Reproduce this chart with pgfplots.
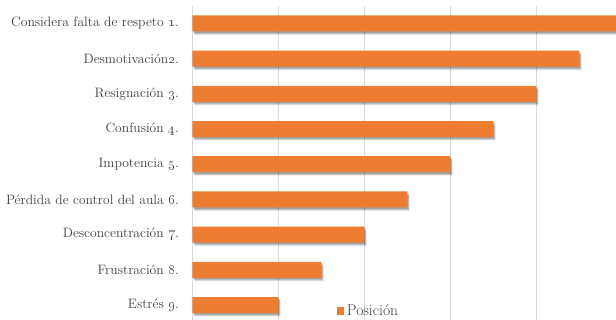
\documentclass[border=0pt]{standalone}
\usepackage{pgfplots}
\pgfplotsset{compat=1.18}
\usetikzlibrary{shadows}
\definecolor{barorange}{HTML}{ED7D31}
\definecolor{gridgray}{HTML}{D9D9D9}
\definecolor{labelgray}{HTML}{404040}

% soft shadow built from a few stacked drop shadows
\tikzset{softshadow/.style={
  drop shadow={shadow xshift=2.4pt, shadow yshift=-3.4pt, opacity=0.10, fill=black},
  drop shadow={shadow xshift=1.8pt, shadow yshift=-2.6pt, opacity=0.14, fill=black},
  drop shadow={shadow xshift=1.1pt, shadow yshift=-1.6pt, opacity=0.18, fill=black}}}

\begin{document}
\begin{tikzpicture}[x=1pt,y=1pt]
\useasboundingbox (0,0) rectangle (616,320);
\clip (0,0) rectangle (616,320);
\begin{axis}[
  at={(192.3pt,-2.6pt)}, anchor=south west,
  scale only axis, width=430pt, height=316.7pt,
  xbar, bar width=16pt,
  xmin=0, xmax=10, ymin=-0.5, ymax=8.5,
  xtick={0,2,4,6,8,10}, xticklabels={},
  xmajorgrids, major grid style={gridgray, line width=1pt},
  ytick={0,...,8},
  yticklabels={
    Estrés \oldstylenums{9}.,
    Frustración \oldstylenums{8}.,
    Desconcentración \oldstylenums{7}.,
    Pérdida de control del aula \oldstylenums{6}.,
    Impotencia \oldstylenums{5}.,
    Confusión \oldstylenums{4}.,
    Resignación \oldstylenums{3}.,
    Desmotivación\oldstylenums{2}.,
    Considera falta de respeto \oldstylenums{1}.},
  axis line style={draw=none},
  major tick length=0pt,
  yticklabel style={font=\fontsize{13.6}{15}\selectfont, text=labelgray, xshift=-10pt},
  legend style={at={(0.335,0.036)}, anchor=west, draw=none, fill=none,
    inner sep=0pt, font=\fontsize{15.5}{17}\selectfont, text=labelgray,
    nodes={inner sep=2.6pt}},
  legend image code/.code={%
    \pgfpathrectangle{\pgfpoint{0pt}{-3.9pt}}{\pgfpoint{7.8pt}{7.8pt}}%
    \pgfsetfillcolor{barorange}\pgfusepath{fill}},
]
\addplot[fill=barorange, draw=none, softshadow]
  coordinates {(2,0) (3,1) (4,2) (5,3) (6,4) (7,5) (8,6) (9,7) (10,8)};
\addlegendentry{Posición}
\end{axis}
\end{tikzpicture}
\end{document}
